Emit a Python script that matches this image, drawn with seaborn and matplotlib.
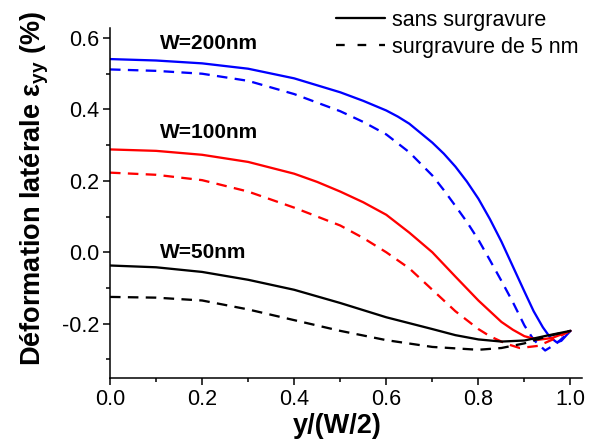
import matplotlib
matplotlib.use("Agg")
import matplotlib.pyplot as plt
from matplotlib.lines import Line2D
from matplotlib.ticker import MultipleLocator, FormatStrFormatter
import seaborn as sns
import pandas as pd

# ---- data ----
x_b200 = [0.0, 0.1, 0.2, 0.3, 0.4, 0.5, 0.55, 0.6, 0.625, 0.65, 0.7, 0.725, 0.75, 0.775, 0.8, 0.825, 0.85, 0.875, 0.9, 0.92, 0.94, 0.955, 0.97, 0.98, 1.0]
y_b200 = [0.541, 0.537, 0.529, 0.514, 0.487, 0.448, 0.424, 0.397, 0.38, 0.36, 0.307, 0.276, 0.24, 0.198, 0.15, 0.093, 0.03, -0.04, -0.11, -0.165, -0.21, -0.237, -0.252, -0.248, -0.22]

x_b200d = [0.0, 0.1, 0.2, 0.3, 0.4, 0.5, 0.55, 0.6, 0.65, 0.7, 0.725, 0.75, 0.775, 0.8, 0.825, 0.85, 0.875, 0.9, 0.92, 0.945, 0.97, 1.0]
y_b200d = [0.512, 0.508, 0.5, 0.48, 0.443, 0.395, 0.365, 0.33, 0.28, 0.215, 0.174, 0.13, 0.085, 0.035, -0.022, -0.08, -0.14, -0.205, -0.245, -0.275, -0.255, -0.22]

x_r100 = [0.0, 0.1, 0.2, 0.3, 0.4, 0.45, 0.5, 0.55, 0.6, 0.65, 0.7, 0.75, 0.8, 0.825, 0.85, 0.875, 0.9, 0.93, 0.96, 1.0]
y_r100 = [0.288, 0.284, 0.273, 0.253, 0.22, 0.197, 0.17, 0.14, 0.105, 0.055, 0.0, -0.068, -0.135, -0.165, -0.195, -0.217, -0.235, -0.245, -0.24, -0.22]

x_r100d = [0.0, 0.1, 0.2, 0.3, 0.4, 0.45, 0.5, 0.55, 0.6, 0.65, 0.7, 0.75, 0.8, 0.825, 0.85, 0.87, 0.89, 0.93, 0.96, 1.0]
y_r100d = [0.223, 0.217, 0.202, 0.17, 0.125, 0.1, 0.075, 0.04, 0.0, -0.045, -0.105, -0.165, -0.215, -0.235, -0.25, -0.26, -0.268, -0.262, -0.245, -0.22]

x_k50 = [0.0, 0.1, 0.2, 0.3, 0.4, 0.5, 0.6, 0.7, 0.75, 0.8, 0.85, 0.9, 0.95, 1.0]
y_k50 = [-0.037, -0.042, -0.055, -0.077, -0.105, -0.142, -0.182, -0.215, -0.232, -0.244, -0.25, -0.247, -0.233, -0.22]

x_k50d = [0.0, 0.1, 0.2, 0.3, 0.4, 0.5, 0.6, 0.7, 0.8, 0.85, 0.9, 0.95, 1.0]
y_k50d = [-0.125, -0.127, -0.135, -0.16, -0.19, -0.22, -0.246, -0.265, -0.273, -0.268, -0.255, -0.235, -0.22]

labels_W = ["W=200nm", "W=100nm", "W=50nm"]
legend_labels = ["sans surgravure", "surgravure de 5 nm"]
xlabel = "y/(W/2)"
ylabel = r"Déformation latérale ε$_{\mathbf{yy}}$ (%)"

# ---- style ----
sns.set_theme(style="ticks")
plt.rcParams["font.family"] = ["Liberation Sans", "DejaVu Sans"]
plt.rcParams["mathtext.fontset"] = "custom"
plt.rcParams["mathtext.rm"] = "Liberation Sans"
plt.rcParams["mathtext.bf"] = "Liberation Sans:bold"
plt.rcParams["mathtext.it"] = "Liberation Sans:italic"
for k in ["text.color", "axes.labelcolor", "xtick.color", "ytick.color", "axes.edgecolor"]:
    plt.rcParams[k] = "black"

fig = plt.figure(figsize=(5.95, 4.43), dpi=100)
ax = fig.add_axes([110/595, 1-378/443, 472/595, 350/443])

lw = 1.65
dash = (0, (4.6, 3.2))
series = [
    (x_b200, y_b200, "#0000FF", "-"),
    (x_b200d, y_b200d, "#0000FF", dash),
    (x_r100, y_r100, "#FF0000", "-"),
    (x_r100d, y_r100d, "#FF0000", dash),
    (x_k50, y_k50, "#000000", "-"),
    (x_k50d, y_k50d, "#000000", dash),
]
for xs, ys, c, ls in series:
    df = pd.DataFrame({"x": xs, "y": ys})
    sns.lineplot(data=df, x="x", y="y", color=c, linestyle=ls, linewidth=lw,
                 sort=False, estimator=None, ax=ax)

ax.set_xlim(0, 1.025)
ax.set_ylim(-0.352, 0.628)
ax.xaxis.set_major_locator(MultipleLocator(0.2))
ax.xaxis.set_minor_locator(MultipleLocator(0.1))
ax.yaxis.set_major_locator(MultipleLocator(0.2))
ax.yaxis.set_minor_locator(MultipleLocator(0.1))
ax.xaxis.set_major_formatter(FormatStrFormatter("%.1f"))
ax.yaxis.set_major_formatter(FormatStrFormatter("%.1f"))

for s in ["top", "right"]:
    ax.spines[s].set_visible(False)
for s in ["left", "bottom"]:
    ax.spines[s].set_linewidth(1.1)
    ax.spines[s].set_color("black")

ax.tick_params(axis="both", which="major", direction="out", length=5, width=1.1,
               labelsize=15.5, pad=3, colors="black")
ax.tick_params(axis="both", which="minor", direction="out", length=3, width=1.1, colors="black")

ax.set_xlabel(xlabel, fontsize=19.5, fontweight="bold", color="black")
ax.set_ylabel(ylabel, fontsize=19.5, fontweight="bold", color="black")
ax.xaxis.set_label_coords(0.482, -0.1)
ax.yaxis.set_label_coords(-0.125, 0.541)

ax.text(0.109, 0.568, labels_W[0], fontsize=15, fontweight="bold", ha="left", va="baseline", color="black")
ax.text(0.109, 0.319, labels_W[1], fontsize=15, fontweight="bold", ha="left", va="baseline", color="black")
ax.text(0.109, -0.017, labels_W[2], fontsize=15, fontweight="bold", ha="left", va="baseline", color="black")

handles = [Line2D([], [], color="black", lw=lw, linestyle="-"),
           Line2D([], [], color="black", lw=lw, linestyle=(0, (3.8, 5.6)))]
leg = ax.legend(handles, legend_labels, loc="upper left",
                bbox_to_anchor=(336/595, 0.978), bbox_transform=fig.transFigure,
                frameon=False, borderpad=0, borderaxespad=0, fontsize=15.5,
                handlelength=2.28, handletextpad=0.33, labelspacing=0.29)
for t in leg.get_texts():
    t.set_color("black")

fig.savefig("out.png", dpi=100)
